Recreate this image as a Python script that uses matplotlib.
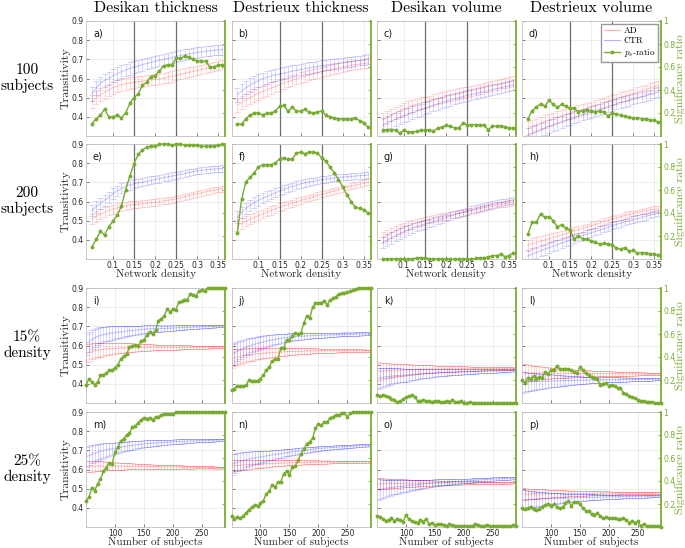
import numpy as np
import matplotlib
matplotlib.use("Agg")
import matplotlib.pyplot as plt
from matplotlib.lines import Line2D

### Data ###

density = np.round(np.arange(0.05, 0.365, 0.01), 2)   # 32 densities
subjects = np.arange(50, 295, 5)                       # 49 sample sizes

col_titles = ["Desikan thickness", "Destrieux thickness", "Desikan volume", "Destrieux volume"]
row_labels = ["100\nsubjects", "200\nsubjects", "15%\ndensity", "25%\ndensity"]
letters = "abcdefghijklmnop"

# error bar half widths (transitivity units)
err100_ad = [0.034,0.034,0.033,0.033,0.032,0.032,0.031,0.031,0.030,0.030,0.030,0.029,0.029,0.029,0.028,0.028,
             0.028,0.027,0.027,0.027,0.026,0.026,0.026,0.026,0.025,0.025,0.025,0.025,0.024,0.024,0.024,0.024]
err100_ctr = [0.036,0.036,0.035,0.035,0.034,0.034,0.033,0.033,0.032,0.032,0.031,0.031,0.031,0.030,0.030,0.030,
              0.029,0.029,0.029,0.028,0.028,0.028,0.028,0.027,0.027,0.027,0.027,0.026,0.026,0.026,0.026,0.026]
err200_ad = [0.028,0.028,0.027,0.026,0.025,0.024,0.023,0.022,0.021,0.020,0.020,0.019,0.019,0.018,0.018,0.018,
             0.017,0.017,0.017,0.016,0.016,0.016,0.016,0.016,0.015,0.015,0.015,0.015,0.015,0.015,0.015,0.015]
err200_ctr = [0.030,0.030,0.030,0.029,0.029,0.028,0.027,0.026,0.025,0.024,0.023,0.022,0.022,0.021,0.021,0.020,
              0.020,0.019,0.019,0.019,0.018,0.018,0.018,0.018,0.017,0.017,0.017,0.017,0.017,0.016,0.016,0.016]
err15_ad = [0.048,0.045,0.042,0.040,0.038,0.036,0.034,0.032,0.031,0.030,0.028,0.027,0.026,0.025,0.024,0.023,0.022,
            0.021,0.020,0.019,0.018,0.017,0.017,0.016,0.015,0.015,0.014,0.014,0.013,0.013,0.012,0.012,0.011,0.011,
            0.011,0.010,0.010,0.009,0.009,0.009,0.008,0.008,0.008,0.007,0.007,0.007,0.006,0.006,0.005]
err15_ctr = [0.055,0.052,0.049,0.046,0.044,0.042,0.040,0.038,0.037,0.035,0.034,0.032,0.030,0.029,0.027,0.026,0.025,
             0.024,0.022,0.021,0.020,0.019,0.019,0.018,0.017,0.016,0.016,0.015,0.015,0.014,0.014,0.013,0.013,0.012,
             0.012,0.011,0.011,0.010,0.010,0.010,0.009,0.009,0.008,0.008,0.008,0.007,0.007,0.006,0.006]
err25_ad = [0.030,0.029,0.028,0.027,0.026,0.025,0.024,0.023,0.022,0.021,0.020,0.019,0.018,0.017,0.016,0.016,0.015,
            0.014,0.014,0.013,0.013,0.012,0.012,0.011,0.011,0.010,0.010,0.010,0.009,0.009,0.009,0.008,0.008,0.008,
            0.007,0.007,0.007,0.007,0.006,0.006,0.006,0.006,0.005,0.005,0.005,0.005,0.005,0.004,0.004]
err25_ctr = [0.053,0.050,0.047,0.044,0.042,0.040,0.038,0.036,0.034,0.032,0.030,0.028,0.027,0.025,0.024,0.023,0.022,
             0.021,0.020,0.019,0.018,0.017,0.016,0.016,0.015,0.015,0.014,0.013,0.013,0.012,0.012,0.012,0.011,0.011,
             0.011,0.010,0.010,0.010,0.009,0.009,0.009,0.008,0.008,0.008,0.007,0.007,0.007,0.006,0.006]

# row 1: 100 subjects, vs density
a_ad = [0.478,0.500,0.515,0.528,0.540,0.552,0.560,0.567,0.572,0.576,0.580,0.583,0.586,0.589,0.592,0.595,
        0.598,0.602,0.606,0.611,0.617,0.622,0.627,0.632,0.637,0.642,0.647,0.652,0.657,0.662,0.667,0.672]
a_ctr = [0.520,0.550,0.575,0.590,0.600,0.615,0.625,0.635,0.645,0.652,0.660,0.665,0.672,0.678,0.684,0.690,
         0.695,0.700,0.705,0.710,0.715,0.720,0.724,0.728,0.732,0.736,0.739,0.742,0.745,0.747,0.749,0.751]
a_sig = [0.108,0.150,0.183,0.233,0.167,0.167,0.183,0.158,0.200,0.283,0.333,0.367,0.442,0.467,0.517,0.525,
         0.567,0.608,0.617,0.617,0.675,0.675,0.692,0.683,0.667,0.650,0.650,0.650,0.600,0.600,0.617,0.617]
b_ad = [0.460,0.475,0.488,0.500,0.511,0.522,0.532,0.541,0.550,0.558,0.567,0.575,0.583,0.591,0.598,0.605,
        0.612,0.618,0.624,0.630,0.636,0.641,0.646,0.651,0.656,0.660,0.664,0.668,0.672,0.675,0.678,0.681]
b_ctr = [0.515,0.535,0.552,0.566,0.578,0.589,0.598,0.606,0.613,0.618,0.622,0.628,0.633,0.638,0.643,0.647,
         0.651,0.655,0.659,0.663,0.667,0.670,0.673,0.676,0.679,0.682,0.685,0.688,0.691,0.694,0.697,0.700]
b_sig = [0.103,0.103,0.150,0.183,0.198,0.198,0.183,0.200,0.198,0.217,0.257,0.267,0.217,0.250,0.217,0.217,
         0.233,0.208,0.200,0.208,0.217,0.183,0.167,0.158,0.150,0.150,0.150,0.150,0.158,0.133,0.117,0.075]
c_ad = [0.384,0.397,0.409,0.420,0.431,0.441,0.450,0.458,0.465,0.471,0.476,0.482,0.488,0.494,0.500,0.506,
        0.511,0.516,0.521,0.527,0.532,0.537,0.542,0.547,0.552,0.557,0.562,0.567,0.572,0.577,0.582,0.587]
c_ctr = [0.358,0.368,0.378,0.387,0.396,0.405,0.413,0.421,0.429,0.437,0.445,0.453,0.461,0.468,0.475,0.482,
         0.488,0.494,0.500,0.506,0.512,0.517,0.522,0.527,0.532,0.537,0.542,0.547,0.552,0.557,0.562,0.567]
c_sig = [0.054,0.054,0.054,0.050,0.025,0.050,0.035,0.035,0.040,0.050,0.050,0.054,0.040,0.070,0.075,0.095,
         0.085,0.070,0.070,0.110,0.100,0.095,0.100,0.095,0.095,0.054,0.085,0.085,0.090,0.075,0.070,0.070]
d_ad = [0.339,0.349,0.358,0.367,0.376,0.384,0.391,0.398,0.404,0.411,0.417,0.424,0.431,0.438,0.445,0.452,
        0.459,0.466,0.473,0.480,0.487,0.494,0.501,0.508,0.515,0.522,0.529,0.536,0.543,0.550,0.557,0.565]
d_ctr = [0.305,0.314,0.323,0.332,0.341,0.350,0.358,0.366,0.374,0.382,0.390,0.397,0.404,0.411,0.418,0.425,
         0.432,0.439,0.446,0.453,0.460,0.467,0.474,0.480,0.486,0.492,0.498,0.504,0.510,0.516,0.522,0.528]
d_sig = [0.150,0.220,0.250,0.280,0.260,0.310,0.275,0.250,0.275,0.260,0.240,0.240,0.210,0.220,0.225,0.220,
         0.210,0.215,0.210,0.175,0.200,0.190,0.180,0.170,0.165,0.155,0.160,0.150,0.150,0.140,0.135,0.120]

# row 2: 200 subjects, vs density
e_ad = [0.509,0.522,0.534,0.544,0.553,0.560,0.567,0.572,0.577,0.581,0.584,0.586,0.589,0.591,0.594,0.596,
        0.599,0.603,0.606,0.610,0.614,0.619,0.624,0.630,0.635,0.640,0.645,0.650,0.655,0.659,0.663,0.667]
e_ctr = [0.553,0.572,0.590,0.607,0.622,0.640,0.655,0.668,0.678,0.686,0.693,0.697,0.701,0.705,0.710,0.714,
         0.719,0.724,0.728,0.733,0.737,0.742,0.746,0.751,0.755,0.760,0.763,0.765,0.767,0.769,0.771,0.772]
e_sig = [0.105,0.170,0.240,0.210,0.280,0.330,0.380,0.460,0.600,0.720,0.830,0.910,0.950,0.970,0.980,0.980,
         1.000,1.000,1.000,0.990,1.000,1.000,0.990,0.990,0.990,0.990,0.980,0.980,0.980,0.980,0.990,1.000]
f_ad = [0.474,0.486,0.497,0.507,0.517,0.526,0.535,0.544,0.553,0.562,0.570,0.577,0.584,0.591,0.598,0.605,
        0.612,0.618,0.624,0.631,0.637,0.643,0.649,0.655,0.661,0.667,0.673,0.679,0.685,0.690,0.695,0.700]
f_ctr = [0.518,0.543,0.563,0.580,0.594,0.606,0.617,0.627,0.636,0.645,0.655,0.663,0.671,0.678,0.685,0.692,
         0.697,0.702,0.706,0.710,0.714,0.717,0.720,0.723,0.725,0.727,0.729,0.731,0.733,0.735,0.736,0.737]
f_sig = [0.230,0.520,0.670,0.710,0.750,0.800,0.820,0.820,0.820,0.835,0.870,0.880,0.870,0.870,0.920,0.930,
         0.915,0.930,0.930,0.920,0.880,0.850,0.800,0.750,0.690,0.630,0.560,0.500,0.450,0.440,0.430,0.400]
g_ad = [0.412,0.424,0.436,0.447,0.457,0.466,0.474,0.481,0.488,0.494,0.500,0.505,0.510,0.515,0.520,0.524,
        0.529,0.533,0.538,0.542,0.547,0.552,0.557,0.562,0.567,0.572,0.576,0.580,0.584,0.588,0.592,0.596]
g_ctr = [0.386,0.398,0.410,0.421,0.432,0.443,0.452,0.461,0.469,0.476,0.482,0.489,0.496,0.503,0.510,0.517,
         0.524,0.531,0.538,0.544,0.550,0.556,0.562,0.568,0.574,0.579,0.584,0.589,0.594,0.598,0.602,0.605]
g_sig = [0.000,0.000,0.000,0.000,0.000,0.000,0.000,0.000,0.010,0.012,0.010,0.000,0.000,0.000,0.000,0.000,
         0.000,0.000,0.000,0.000,0.000,0.000,0.005,0.010,0.012,0.015,0.030,0.030,0.040,0.020,0.030,0.055]
h_ad = [0.372,0.379,0.386,0.392,0.399,0.405,0.412,0.419,0.425,0.432,0.439,0.446,0.453,0.460,0.467,0.474,
        0.481,0.488,0.495,0.502,0.509,0.515,0.521,0.527,0.533,0.538,0.543,0.548,0.552,0.556,0.559,0.562]
h_ctr = [0.316,0.325,0.334,0.343,0.351,0.359,0.367,0.375,0.383,0.391,0.398,0.406,0.414,0.422,0.430,0.437,
         0.444,0.451,0.458,0.466,0.474,0.481,0.487,0.493,0.499,0.505,0.511,0.517,0.523,0.529,0.534,0.539]
h_sig = [0.216,0.319,0.319,0.392,0.363,0.368,0.333,0.281,0.298,0.269,0.251,0.173,0.202,0.173,0.173,0.158,
         0.149,0.129,0.135,0.129,0.126,0.094,0.085,0.099,0.070,0.076,0.050,0.056,0.050,0.047,0.041,0.032]

# row 3: 15% density, vs number of subjects
i_ad = [0.560,0.565,0.570,0.573,0.576,0.578,0.580,0.582,0.583,0.584,0.585,0.586,0.587,0.587,0.588,0.588,0.589,
        0.589,0.589,0.590,0.590,0.590,0.590,0.590,0.590,0.590,0.590,0.590,0.590,0.590,0.590,0.590,0.590,0.591,
        0.591,0.591,0.591,0.591,0.591,0.591,0.591,0.591,0.592,0.592,0.592,0.592,0.592,0.592,0.592]
i_ctr = [0.607,0.620,0.631,0.640,0.647,0.653,0.657,0.660,0.663,0.665,0.667,0.669,0.671,0.673,0.675,0.677,0.679,
         0.680,0.682,0.683,0.685,0.686,0.687,0.687,0.688,0.688,0.689,0.689,0.690,0.690,0.691,0.692,0.693,0.693,
         0.694,0.695,0.695,0.696,0.697,0.697,0.698,0.699,0.699,0.700,0.700,0.701,0.702,0.702,0.703]
i_sig = [0.158,0.208,0.183,0.158,0.183,0.242,0.242,0.258,0.283,0.283,0.308,0.333,0.383,0.408,0.425,0.483,0.492,
         0.508,0.492,0.542,0.550,0.592,0.617,0.600,0.633,0.717,0.733,0.758,0.817,0.792,0.817,0.808,0.875,0.883,
         0.900,0.900,0.950,0.942,0.933,0.975,0.983,0.975,1.000,1.000,1.000,1.000,1.000,1.000,1.000]
j_ad = [0.532,0.536,0.540,0.543,0.546,0.549,0.551,0.553,0.555,0.557,0.558,0.560,0.561,0.562,0.563,0.564,0.565,
        0.566,0.567,0.568,0.569,0.569,0.570,0.570,0.571,0.571,0.571,0.572,0.572,0.572,0.572,0.572,0.573,0.573,
        0.573,0.573,0.573,0.573,0.573,0.573,0.573,0.573,0.573,0.573,0.573,0.573,0.573,0.573,0.573]
j_ctr = [0.553,0.562,0.570,0.578,0.585,0.591,0.597,0.602,0.607,0.611,0.615,0.619,0.623,0.626,0.629,0.632,0.635,
         0.637,0.639,0.641,0.643,0.645,0.646,0.647,0.648,0.649,0.650,0.651,0.652,0.652,0.653,0.654,0.654,0.655,
         0.655,0.656,0.656,0.657,0.657,0.658,0.658,0.659,0.659,0.660,0.660,0.661,0.661,0.662,0.662]
j_sig = [0.111,0.126,0.146,0.146,0.146,0.155,0.199,0.190,0.190,0.190,0.213,0.242,0.286,0.309,0.367,0.379,0.379,
         0.474,0.474,0.547,0.547,0.582,0.611,0.599,0.611,0.698,0.756,0.736,0.832,0.866,0.872,0.872,0.890,0.852,
         0.895,0.910,0.925,0.948,0.954,0.959,0.965,0.971,0.983,0.994,1.000,1.000,1.000,1.000,1.000]
k_ad = [0.465,0.466,0.467,0.468,0.469,0.470,0.471,0.472,0.472,0.473,0.473,0.474,0.474,0.475,0.475,0.475,0.476,
        0.476,0.476,0.477,0.477,0.477,0.477,0.478,0.478,0.478,0.478,0.478,0.478,0.479,0.479,0.479,0.479,0.479,
        0.479,0.479,0.479,0.480,0.480,0.480,0.480,0.480,0.480,0.480,0.480,0.480,0.480,0.480,0.480]
k_ctr = [0.428,0.431,0.434,0.436,0.438,0.440,0.442,0.443,0.444,0.445,0.446,0.448,0.449,0.450,0.451,0.452,0.453,
         0.454,0.455,0.456,0.457,0.458,0.458,0.459,0.460,0.460,0.461,0.461,0.462,0.462,0.463,0.463,0.464,0.464,
         0.465,0.465,0.466,0.466,0.467,0.467,0.468,0.468,0.469,0.469,0.470,0.470,0.471,0.471,0.472]
k_sig = [0.068,0.060,0.068,0.060,0.054,0.039,0.025,0.010,0.017,0.031,0.048,0.062,0.068,0.054,0.019,0.019,0.025,
         0.019,0.019,0.010,0.019,0.019,0.010,0.010,0.019,0.010,0.025,0.010,0.010,0.019,0.000,0.000,0.010,0.000,
         0.000,0.000,0.000,0.000,0.000,0.000,0.000,0.000,0.000,0.000,0.000,0.000,0.000,0.000,0.000]
l_ad = [0.458,0.458,0.458,0.457,0.457,0.457,0.457,0.456,0.456,0.456,0.456,0.456,0.455,0.455,0.455,0.455,0.455,
        0.455,0.454,0.454,0.454,0.454,0.454,0.454,0.454,0.453,0.453,0.453,0.453,0.453,0.453,0.453,0.453,0.452,
        0.452,0.452,0.452,0.452,0.452,0.452,0.452,0.452,0.452,0.451,0.451,0.451,0.451,0.451,0.451]
l_ctr = [0.408,0.409,0.410,0.411,0.411,0.412,0.413,0.413,0.414,0.414,0.415,0.415,0.416,0.416,0.417,0.417,0.417,
         0.418,0.418,0.418,0.419,0.419,0.419,0.420,0.420,0.420,0.420,0.421,0.421,0.421,0.421,0.422,0.422,0.422,
         0.422,0.422,0.423,0.423,0.423,0.423,0.423,0.424,0.424,0.424,0.424,0.424,0.425,0.425,0.425]
l_sig = [0.200,0.170,0.215,0.210,0.235,0.210,0.230,0.220,0.270,0.250,0.290,0.290,0.320,0.300,0.295,0.300,0.295,
         0.285,0.270,0.265,0.310,0.290,0.260,0.240,0.230,0.220,0.210,0.160,0.165,0.170,0.150,0.160,0.145,0.130,
         0.130,0.090,0.080,0.060,0.050,0.040,0.030,0.020,0.015,0.010,0.010,0.005,0.000,0.000,0.000]

# row 4: 25% density, vs number of subjects
m_ad = [0.615,0.616,0.617,0.617,0.618,0.618,0.618,0.618,0.618,0.618,0.617,0.617,0.617,0.617,0.617,0.617,0.617,
        0.617,0.616,0.616,0.616,0.616,0.615,0.615,0.615,0.615,0.614,0.614,0.614,0.614,0.614,0.613,0.613,0.613,
        0.613,0.612,0.612,0.612,0.612,0.612,0.612,0.611,0.611,0.611,0.611,0.610,0.610,0.610,0.610]
m_ctr = [0.665,0.672,0.679,0.685,0.690,0.695,0.699,0.703,0.706,0.708,0.710,0.713,0.716,0.719,0.721,0.724,0.726,
         0.728,0.730,0.732,0.734,0.735,0.736,0.737,0.738,0.739,0.740,0.741,0.742,0.743,0.744,0.745,0.746,0.746,
         0.747,0.748,0.748,0.749,0.750,0.750,0.751,0.752,0.752,0.753,0.753,0.754,0.754,0.755,0.755]
m_sig = [0.225,0.258,0.342,0.317,0.375,0.417,0.483,0.517,0.558,0.550,0.650,0.692,0.750,0.767,0.800,0.817,0.867,
         0.875,0.908,0.933,0.950,0.942,0.950,0.933,0.958,0.958,0.975,0.983,0.983,0.983,0.983,1.000,1.000,1.000,
         1.000,1.000,1.000,1.000,1.000,1.000,1.000,1.000,1.000,1.000,1.000,1.000,1.000,1.000,1.000]
n_ad = [0.617,0.619,0.621,0.622,0.624,0.625,0.626,0.627,0.628,0.628,0.628,0.629,0.630,0.631,0.631,0.632,0.632,
        0.633,0.633,0.634,0.635,0.635,0.636,0.636,0.636,0.637,0.637,0.637,0.637,0.638,0.638,0.638,0.638,0.639,
        0.639,0.639,0.639,0.639,0.639,0.640,0.640,0.640,0.640,0.640,0.640,0.640,0.640,0.640,0.640]
n_ctr = [0.626,0.632,0.637,0.642,0.647,0.651,0.655,0.658,0.661,0.663,0.665,0.668,0.671,0.673,0.676,0.678,0.680,
         0.683,0.685,0.687,0.690,0.692,0.694,0.696,0.698,0.700,0.702,0.704,0.706,0.708,0.710,0.711,0.712,0.713,
         0.714,0.715,0.716,0.717,0.718,0.719,0.720,0.721,0.722,0.723,0.724,0.725,0.726,0.727,0.728]
n_sig = [0.093,0.070,0.085,0.076,0.099,0.122,0.152,0.172,0.192,0.181,0.210,0.230,0.289,0.309,0.367,0.347,0.391,
         0.391,0.464,0.484,0.449,0.522,0.531,0.580,0.638,0.676,0.726,0.740,0.770,0.863,0.892,0.886,0.910,0.915,
         0.945,0.959,0.974,0.974,0.988,0.988,0.959,0.988,1.000,1.000,1.000,1.000,1.000,1.000,1.000]
o_ad = [0.525,0.525,0.526,0.526,0.526,0.527,0.527,0.527,0.527,0.528,0.528,0.528,0.528,0.528,0.529,0.529,0.529,
        0.529,0.529,0.529,0.530,0.530,0.530,0.530,0.530,0.530,0.530,0.530,0.530,0.530,0.531,0.531,0.531,0.531,
        0.531,0.531,0.531,0.531,0.531,0.531,0.531,0.531,0.531,0.531,0.531,0.531,0.531,0.531,0.531]
o_ctr = [0.495,0.498,0.500,0.502,0.504,0.506,0.508,0.510,0.512,0.513,0.515,0.517,0.518,0.520,0.521,0.523,0.524,
         0.526,0.527,0.528,0.530,0.531,0.532,0.533,0.534,0.535,0.536,0.537,0.538,0.539,0.540,0.541,0.542,0.543,
         0.544,0.545,0.546,0.547,0.548,0.549,0.550,0.551,0.551,0.552,0.553,0.554,0.554,0.555,0.556]
o_sig = [0.093,0.085,0.070,0.055,0.064,0.076,0.055,0.070,0.064,0.047,0.105,0.070,0.055,0.047,0.035,0.064,0.047,
         0.070,0.026,0.035,0.017,0.026,0.026,0.017,0.012,0.026,0.017,0.012,0.012,0.006,0.012,0.006,0.006,0.012,
         0.026,0.017,0.006,0.012,0.017,0.012,0.006,0.006,0.006,0.006,0.006,0.006,0.006,0.017,0.006]
p_ad = [0.472,0.472,0.472,0.473,0.473,0.473,0.473,0.473,0.474,0.474,0.474,0.474,0.474,0.474,0.475,0.475,0.475,
        0.475,0.475,0.475,0.475,0.476,0.476,0.476,0.476,0.476,0.476,0.476,0.476,0.477,0.477,0.477,0.477,0.477,
        0.477,0.477,0.477,0.477,0.478,0.478,0.478,0.478,0.478,0.478,0.478,0.478,0.478,0.478,0.478]
p_ctr = [0.440,0.441,0.442,0.443,0.444,0.444,0.445,0.446,0.447,0.447,0.448,0.449,0.449,0.450,0.450,0.451,0.451,
         0.452,0.452,0.453,0.453,0.454,0.454,0.455,0.455,0.455,0.456,0.456,0.457,0.457,0.457,0.458,0.458,0.458,
         0.459,0.459,0.459,0.459,0.460,0.460,0.460,0.460,0.461,0.461,0.461,0.461,0.462,0.462,0.462]
p_sig = [0.165,0.156,0.165,0.177,0.156,0.147,0.156,0.177,0.194,0.200,0.185,0.200,0.177,0.165,0.171,0.206,0.229,
         0.182,0.215,0.220,0.200,0.165,0.142,0.136,0.112,0.107,0.118,0.098,0.077,0.083,0.077,0.077,0.074,0.069,
         0.069,0.077,0.060,0.039,0.048,0.039,0.048,0.010,0.025,0.010,0.007,0.010,0.010,0.007,0.000]

panels = [
    (a_ad, a_ctr, a_sig, err100_ad, err100_ctr), (b_ad, b_ctr, b_sig, err100_ad, err100_ctr),
    (c_ad, c_ctr, c_sig, err100_ad, err100_ctr), (d_ad, d_ctr, d_sig, err100_ad, err100_ctr),
    (e_ad, e_ctr, e_sig, err200_ad, err200_ctr), (f_ad, f_ctr, f_sig, err200_ad, err200_ctr),
    (g_ad, g_ctr, g_sig, err200_ad, err200_ctr), (h_ad, h_ctr, h_sig, err200_ad, err200_ctr),
    (i_ad, i_ctr, i_sig, err15_ad, err15_ctr), (j_ad, j_ctr, j_sig, err15_ad, err15_ctr),
    (k_ad, k_ctr, k_sig, err15_ad, err15_ctr), (l_ad, l_ctr, l_sig, err15_ad, err15_ctr),
    (m_ad, m_ctr, m_sig, err25_ad, err25_ctr), (n_ad, n_ctr, n_sig, err25_ad, err25_ctr),
    (o_ad, o_ctr, o_sig, err25_ad, err25_ctr), (p_ad, p_ctr, p_sig, err25_ad, err25_ctr),
]

### Plotting ###

plt.rcParams['mathtext.fontset'] = 'cm'
serif = ['cmr10', 'DejaVu Serif']
red = (1.0, 0.0, 0.0)
blue = (0.0, 0.0, 1.0)
green = (0.466, 0.674, 0.188)

W, H = 685, 548
fig = plt.figure(figsize=(W/100, H/100), dpi=100)
lefts = [86, 231.5, 377, 522]
tops = [21, 144, 288, 412]
pw, ph = 139, 115

for k, (ad, ctr, sig, ead, ectr) in enumerate(panels):
    r, c = divmod(k, 4)
    ax = fig.add_axes([lefts[c]/W, 1-(tops[r]+ph)/H, pw/W, ph/H])
    ax2 = ax.twinx()
    x = density if r < 2 else subjects
    cap = 2.0 if r < 2 else 2.6

    ax.errorbar(x, ad, yerr=ead, color=red, alpha=0.22, lw=0.8, elinewidth=0.5,
                capsize=cap, capthick=0.5)
    ax.errorbar(x, ctr, yerr=ectr, color=blue, alpha=0.22, lw=0.8, elinewidth=0.5,
                capsize=cap, capthick=0.5)
    if r < 2:
        for v in (0.15, 0.25):
            ax.axvline(v, color='0.35', lw=0.9, alpha=0.85)
    ax2.plot(x, sig, '-', color=green, lw=1.0, marker='o', ms=1.8, clip_on=False)

    ax.set_ylim(0.3, 0.9)
    ax2.set_ylim(0, 1)
    if r < 2:
        ax.set_xlim(0.036, 0.366)
        xt = [0.1, 0.15, 0.2, 0.25, 0.3, 0.35]
    else:
        ax.set_xlim(50, 290)
        xt = [100, 150, 200, 250]
    ax.set_xticks(xt)
    ax.set_yticks([0.4, 0.5, 0.6, 0.7, 0.8, 0.9])
    ax2.set_yticks([0.2, 0.4, 0.6, 0.8, 1.0])
    ax.grid(True, color='0.9', lw=0.5)

    ax.set_xticklabels([f"{v:g}" for v in xt] if r in (1, 3) else [])
    ax.set_yticklabels([f"{v:g}" for v in ax.get_yticks()] if c == 0 else [])
    ax2.set_yticklabels(["0.2", "0.4", "0.6", "0.8", "1"] if c == 3 else [])

    ax.tick_params(direction='in', length=2, width=0.5, color='0.3', labelsize=5.5,
                   labelcolor='0.15', pad=1.5)
    ax2.tick_params(direction='in', length=2, width=0.6, color=green, labelsize=5.5,
                    labelcolor=green, pad=1.5)
    for s in ('left', 'top', 'bottom'):
        ax.spines[s].set_color('0.75')
        ax.spines[s].set_linewidth(0.6)
        ax2.spines[s].set_visible(False)
    ax.spines['right'].set_visible(False)
    ax2.spines['right'].set_color(green)
    ax2.spines['right'].set_linewidth(1.3)

    ax.text(0.05, 0.89, letters[k] + ")", transform=ax.transAxes, fontsize=7,
            va='center', ha='left', color='0.1')

    if k == 3:
        handles = [Line2D([], [], color=red, alpha=0.3, lw=0.8),
                   Line2D([], [], color=blue, alpha=0.3, lw=0.8),
                   Line2D([], [], color=green, lw=1.0, marker='o', ms=1.8)]
        ax2.legend(handles, ["AD", "CTR", "$p_s$-ratio"], loc='upper right',
                   prop={'family': serif, 'size': 6.5}, frameon=True, fancybox=False,
                   edgecolor='0.6', framealpha=1, handlelength=1.8, borderpad=0.3,
                   labelspacing=0.2, handletextpad=0.4, borderaxespad=0.3)

# column titles
for c, t in enumerate(col_titles):
    fig.text((lefts[c] + pw/2)/W, 1 - 12/H, t, ha='center', va='baseline',
             fontsize=11.5, family=serif)

# row labels and side axis labels
for r, lab in enumerate(row_labels):
    yc = 1 - (tops[r] + ph/2)/H
    fig.text(27/W, yc, lab, ha='center', va='center', fontsize=11,
             family=serif, linespacing=1.15)
    fig.text(66/W, yc, "Transitivity", ha='center', va='center', rotation=90,
             fontsize=8.5, family=serif, color='0.15')
    fig.text(680/W, yc, "Significance ratio", ha='center', va='center', rotation=90,
             fontsize=8.5, family=serif, color=green)

for r, lab in ((1, "Network density"), (3, "Number of subjects")):
    for c in range(4):
        fig.text((lefts[c] + pw/2)/W, 1 - (tops[r] + ph + 18)/H, lab, ha='center',
                 va='baseline', fontsize=8, family=serif, color='0.15')

fig.savefig("out.png", dpi=100)
